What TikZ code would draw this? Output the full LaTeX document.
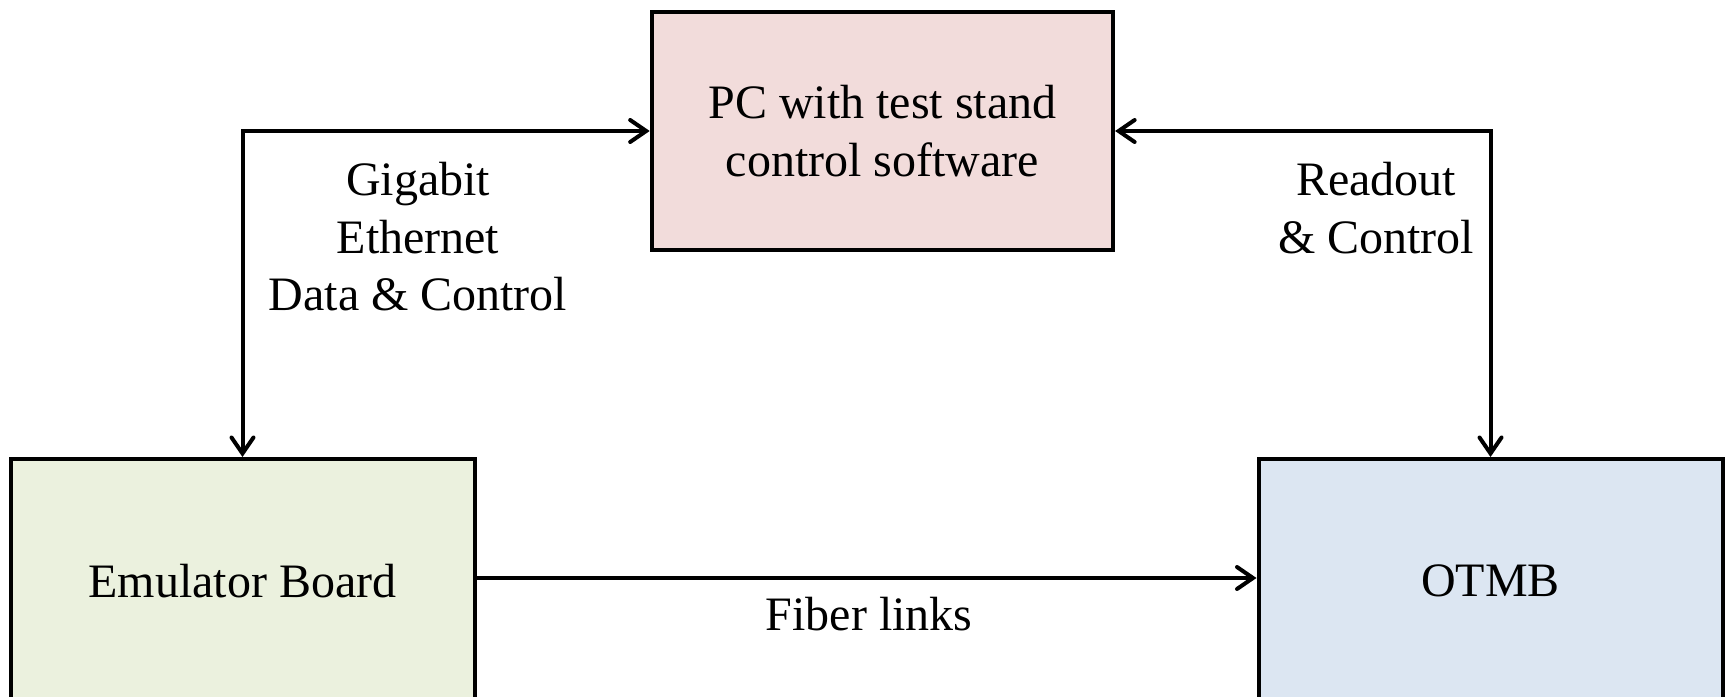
\documentclass[tikz,border=0pt]{standalone}
\usepackage{fontspec}
\setmainfont{Liberation Serif}
\usetikzlibrary{arrows.meta}
\definecolor{pcfill}{HTML}{F2DCDB}
\definecolor{emufill}{HTML}{EBF1DE}
\definecolor{otmbfill}{HTML}{DCE6F2}
\tikzset{
  block/.style={draw=black, line width=2pt, inner sep=0pt, align=center,
    minimum width=232pt, minimum height=122pt},
  label/.style={inner sep=0pt, align=center},
  link/.style={line width=2pt, {Straight Barb[length=8pt,width=11pt,line cap=round]}-{Straight Barb[length=8pt,width=11pt,line cap=round]}},
  onelink/.style={line width=2pt, -{Straight Barb[length=8pt,width=11pt,line cap=round]}}
}
\begin{document}
\begin{tikzpicture}[x=0.5pt,y=-0.5pt,
  every node/.append style={font=\fontsize{24}{28.75}\selectfont}]
\useasboundingbox (0,0) rectangle (1727,696);
\clip (0,0) rectangle (1727,696);
\fill[white] (0,0) rectangle (1727,696);

% boxes
\node[block, fill=pcfill, minimum width=230.7pt, minimum height=119pt] (pc) at (882.4,131)
  {PC with test stand\\control software};
\node[block, fill=emufill] (emu) at (242.5,581) {Emulator Board};
\node[block, fill=otmbfill] (otmb) at (1490.5,581) {OTMB};

% connectors
\draw[link] (pc.west) -| (emu.north);
\draw[link] (pc.east) -| (otmb.north);
\draw[onelink] ([yshift=1.5pt]emu.east) -- ([yshift=1.5pt]otmb.west);

% connector labels
\node[label] (gbe) at (418,237) {Gigabit\\Ethernet\\Data \& Control};
\node[label] (roc) at (1376,208) {Readout\\\& Control};
\node[label, anchor=base] (fib) at (869,630) {Fiber links};
\end{tikzpicture}
\end{document}
